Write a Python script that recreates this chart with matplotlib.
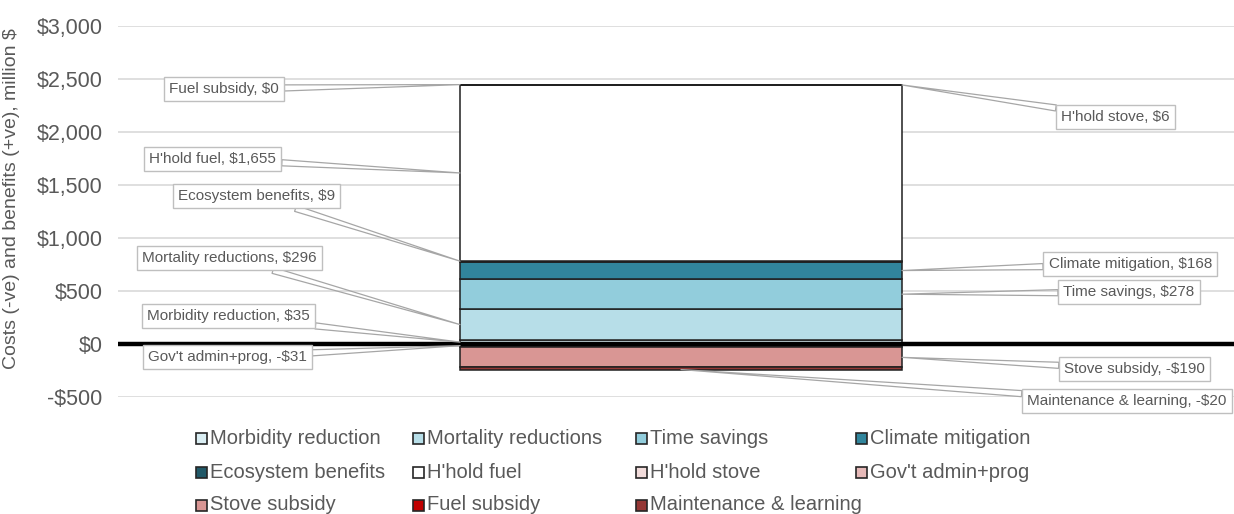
import numpy as np
import matplotlib.pyplot as plt
from matplotlib.patches import Rectangle

plt.rcParams['font.family'] = ['Liberation Sans', 'DejaVu Sans']

# cost/benefit components, million $ (benefits +ve, costs -ve)
categories = ["Morbidity reduction", "Mortality reductions", "Time savings",
              "Climate mitigation", "Ecosystem benefits", "H'hold fuel",
              "H'hold stove", "Gov't admin+prog", "Stove subsidy",
              "Fuel subsidy", "Maintenance & learning"]
values = [35, 296, 278, 168, 9, 1655, 6, -31, -190, 0, -20]
colors = ['#DAEEF3', '#B7DEE8', '#92CDDC', '#31859C', '#215968', '#FFFFFF',
          '#F2DCDB', '#E6B9B8', '#D99694', '#C00000', '#953735']

yticks = [-500, 0, 500, 1000, 1500, 2000, 2500, 3000]

# callout boxes: axes-fraction position and which side of the bar the leader hits
callouts = {
    "Fuel subsidy":           (0.095, 0.830, 'top-left'),
    "H'hold stove":           (0.894, 0.755, 'right'),
    "H'hold fuel":            (0.085, 0.642, 'left'),
    "Ecosystem benefits":     (0.124, 0.542, 'left'),
    "Mortality reductions":   (0.100, 0.375, 'left'),
    "Morbidity reduction":    (0.099, 0.218, 'left'),
    "Gov't admin+prog":       (0.098, 0.108, 'left'),
    "Climate mitigation":     (0.907, 0.358, 'right'),
    "Time savings":           (0.906, 0.283, 'right'),
    "Stove subsidy":          (0.911, 0.075, 'right'),
    "Maintenance & learning": (0.904, -0.011, 'bottom'),
}

grey = '#595959'

fig = plt.figure(figsize=(12.34, 5.14), dpi=100)
ax = fig.add_axes([118 / 1234, 1 - 397 / 514, 1 - 118 / 1234, 371 / 514])

bar_w = 0.396
pos_base, neg_base = 0.0, 0.0
mids = {}
for name, v, c in zip(categories, values, colors):
    if v >= 0:
        bottom = pos_base
        pos_base += v
    else:
        bottom = neg_base
        neg_base += v
    ax.bar(0, v, bottom=bottom, width=bar_w, color=c, edgecolor='#1F1F1F',
           linewidth=1.1, zorder=3)
    mids[name] = bottom + v / 2

ax.set_xlim(-0.5045, 0.4955)
ax.set_ylim(-500, 3000)
ax.set_yticks(yticks)
ax.set_yticklabels([f"-${abs(t):,}" if t < 0 else f"${t:,}" for t in yticks])
ax.set_xticks([])
ax.tick_params(axis='y', length=0, pad=11, labelsize=15.5, labelcolor=grey)
ax.grid(axis='y', color='#D9D9D9', linewidth=1.2, zorder=0)
ax.axhline(0, color='black', linewidth=3.2, zorder=4)
for s in ax.spines.values():
    s.set_visible(False)

ax.set_ylabel("Costs (-ve) and benefits (+ve), million $", fontsize=14,
              color=grey)
ax.yaxis.set_label_coords(-0.088, 0.535)

# data callouts
for name, v in zip(categories, values):
    tx, ty, side = callouts[name]
    if side == 'left':
        anchor = (-bar_w / 2, mids[name])
    elif side == 'right':
        anchor = (bar_w / 2, mids[name])
    elif side == 'top-left':
        anchor = (-bar_w / 2, pos_base)
    else:
        anchor = (0, neg_base)
    txt = f"{name}, ${v:,}" if v >= 0 else f"{name}, -${abs(v):,}"
    ax.annotate(txt, xy=anchor, xycoords='data',
                xytext=(tx, ty), textcoords='axes fraction',
                ha='center', va='center', fontsize=11, color=grey,
                bbox=dict(boxstyle='square,pad=0.33', fc='white',
                          ec='#BFBFBF', lw=1),
                arrowprops=dict(arrowstyle='wedge,tail_width=0.4',
                                fc='none', ec='#A6A6A6', lw=0.9,
                                shrinkA=0, shrinkB=0),
                zorder=5, annotation_clip=False)

# legend laid out row by row in four equal columns
col_x = [196, 413, 636, 856]
row_y = [438, 472, 505]
sw = 11
for i, (name, c) in enumerate(zip(categories, colors)):
    r, k = divmod(i, 4)
    x0 = col_x[k] / 1234
    y0 = 1 - row_y[r] / 514
    fig.patches.append(Rectangle((x0, y0 - sw / 2 / 514), sw / 1234, sw / 514,
                                 transform=fig.transFigure, fc=c,
                                 ec='#262626', lw=1.2))
    fig.text(x0 + (sw + 3) / 1234, y0, name, fontsize=14.5, color=grey,
             ha='left', va='center')

fig.savefig('out.png', dpi=100)
